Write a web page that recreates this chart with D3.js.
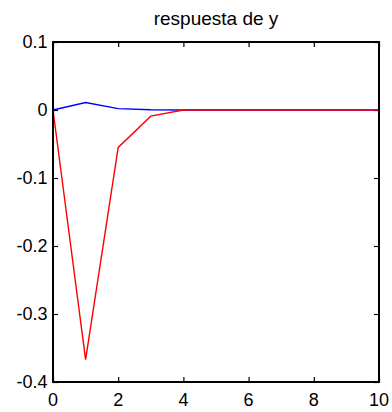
<!DOCTYPE html>
<html>
<head>
<meta charset="utf-8" />
<script src="https://d3js.org/d3.v7.min.js"></script>
<style>
  body { margin: 0; background: #fff; }
  svg { font-family: "Liberation Sans", Arial, sans-serif; }
</style>
</head>
<body>
<svg></svg>
<script>
// impulse responses of y
var periods = [0, 1, 2, 3, 4, 5, 6, 7, 8, 9, 10];
var blueSeries = [0, 0.011, 0.002, 0.0003, 0, 0, 0, 0, 0, 0, 0];
var redSeries = [0, -0.367, -0.055, -0.009, 0, 0, 0, 0, 0, 0, 0];
var xTicks = [0, 2, 4, 6, 8, 10];
var yTicks = [0.1, 0, -0.1, -0.2, -0.3, -0.4];
var title = 'respuesta de y';

var width = 392, height = 412;
var margin = { top: 42, right: 13, bottom: 30, left: 53 };

var svg = d3.select('svg')
  .attr('width', width)
  .attr('height', height);

var x = d3.scaleLinear().domain([0, 10]).range([margin.left, width - margin.right]);
var y = d3.scaleLinear().domain([-0.4, 0.1]).range([height - margin.bottom, margin.top]);

// matlab style labels: plain hyphen, no trailing zeros
var fmt = function (d) { return d === 0 ? '0' : d.toFixed(1); };

// tick marks pointing inward on all sides
var tickLen = 5;
svg.append('g').call(d3.axisBottom(x).tickValues(xTicks).tickSizeInner(-tickLen).tickSizeOuter(0).tickFormat(''))
  .attr('transform', 'translate(0,' + y(-0.4) + ')');
svg.append('g').call(d3.axisTop(x).tickValues(xTicks).tickSizeInner(-tickLen).tickSizeOuter(0).tickFormat(''))
  .attr('transform', 'translate(0,' + y(0.1) + ')');
svg.append('g').call(d3.axisLeft(y).tickValues(yTicks).tickSizeInner(-tickLen).tickSizeOuter(0).tickFormat(''))
  .attr('transform', 'translate(' + x(0) + ',0)');
svg.append('g').call(d3.axisRight(y).tickValues(yTicks).tickSizeInner(-tickLen).tickSizeOuter(0).tickFormat(''))
  .attr('transform', 'translate(' + x(10) + ',0)');
svg.selectAll('.domain').remove();
svg.selectAll('.tick line').attr('stroke', '#000').attr('stroke-width', 1.2);

// tick labels
svg.append('g').selectAll('text')
  .data(xTicks).enter().append('text')
  .attr('x', function (d) { return x(d); })
  .attr('y', y(-0.4) + 24)
  .attr('text-anchor', 'middle')
  .attr('font-size', 18)
  .text(function (d) { return d; });

svg.append('g').selectAll('text')
  .data(yTicks).enter().append('text')
  .attr('x', x(0) - 5.5)
  .attr('y', function (d) { return y(d) + 6; })
  .attr('text-anchor', 'end')
  .attr('font-size', 18)
  .text(fmt);

// title
svg.append('text')
  .attr('x', (x(0) + x(10)) / 2)
  .attr('y', 25)
  .attr('text-anchor', 'middle')
  .attr('font-size', 19)
  .text(title);

var line = d3.line()
  .x(function (d, i) { return x(periods[i]); })
  .y(function (d) { return y(d); });

svg.append('path')
  .datum(blueSeries)
  .attr('d', line)
  .attr('fill', 'none').attr('stroke', '#0000ff').attr('stroke-width', 1.4);

svg.append('path')
  .datum(redSeries)
  .attr('d', line)
  .attr('fill', 'none').attr('stroke', '#ff0000').attr('stroke-width', 1.4);

// axes box
svg.append('rect')
  .attr('x', x(0)).attr('y', y(0.1))
  .attr('width', x(10) - x(0)).attr('height', y(-0.4) - y(0.1))
  .attr('fill', 'none').attr('stroke', '#000').attr('stroke-width', 2);
</script>
</body>
</html>
